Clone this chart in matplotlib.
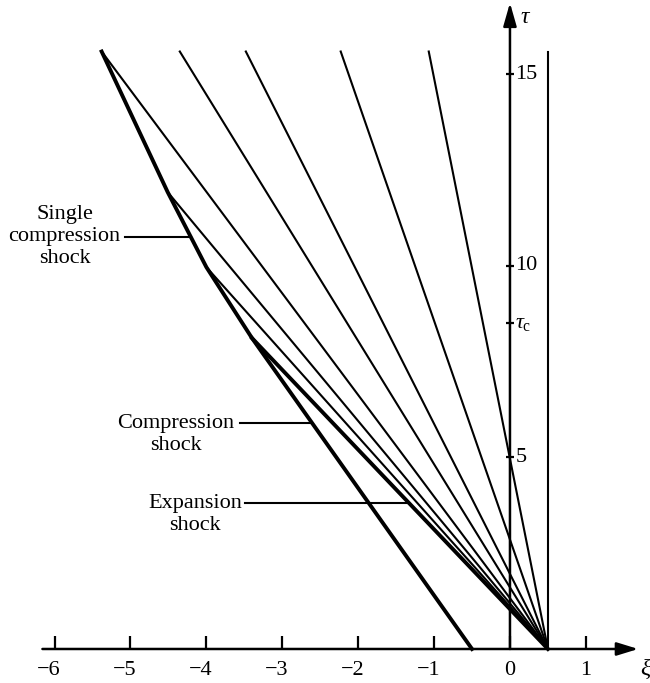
import matplotlib
matplotlib.use('Agg')
import matplotlib.pyplot as plt
import numpy as np

plt.rcParams['font.family'] = ['Liberation Serif', 'DejaVu Serif']
plt.rcParams['mathtext.fontset'] = 'custom'
plt.rcParams['mathtext.rm'] = 'Liberation Serif'
plt.rcParams['mathtext.it'] = 'Liberation Serif:italic'

# ---------------- data ----------------
x_ticks = [-6, -5, -4, -3, -2, -1, 0, 1]
x_ticklabels = ['−6', '−5', '−4', '−3', '−2', '−1', '0', '1']
y_ticks = [5, 8.5, 10, 15]
y_ticklabels = ['5', r'$\tau_{\rm c}$', '10', '15']

fan_xi0, fan_tau0 = 0.5, 0.0          # centre of the fan
tau_top = 15.6
char_top_xi = [-4.35, -3.48, -2.23, -1.07]   # characteristics reaching the top

shock_xi = [-5.38, -4.51, -4.00, -3.40, -0.5]   # single compression shock + compression shock
shock_tau = [15.6, 11.93, 9.97, 8.12, 0.0]
char_on_shock = [0, 1, 2]                      # characteristics ending on the shock

expansion_xi = [-3.40, 0.5]
expansion_tau = [8.12, 0.0]

wall_xi = [0.5, 0.5]
wall_tau = [0.0, 15.6]

labels = ['Single\ncompression\nshock', 'Compression\nshock', 'Expansion\nshock']
label_xi = [-5.87, -4.40, -4.15]
label_tau = [10.76, 5.61, 3.52]
pointer_start_xi = [-5.07, -3.56, -3.49]
pointer_tau = [10.76, 5.90, 3.81]
pointer_target = ['shock', 'shock', 'expansion']

# ---------------- figure ----------------
fig = plt.figure(figsize=(6.5, 6.83), dpi=100)
ax = fig.add_axes([0, 0, 1, 1])
ax.set_xlim(-6.719, 1.845)
ax.set_ylim(-0.888, 16.945)
ax.axis('off')

thin = 1.5
thick = 2.8
k = 'black'
fs = 16

# axes with arrows
ax.annotate('', xy=(1.69, 0), xytext=(-6.16, 0),
            arrowprops=dict(arrowstyle='-|>,head_length=0.65,head_width=0.2',
                            lw=1.8, color=k, mutation_scale=20, shrinkA=0, shrinkB=0))
ax.annotate('', xy=(0, 16.87), xytext=(0, 0),
            arrowprops=dict(arrowstyle='-|>,head_length=0.7,head_width=0.2',
                            lw=1.8, color=k, mutation_scale=20, shrinkA=0, shrinkB=0))

# x ticks (upwards only)
for xt, lab in zip(x_ticks, x_ticklabels):
    ax.plot([xt, xt], [0, 0.34], color=k, lw=1.6, solid_capstyle='butt')
    if xt < 0:
        ax.text(xt + 0.08, -0.57, lab, ha='right', va='center', fontsize=fs)
    else:
        ax.text(xt, -0.57, lab, ha='center', va='center', fontsize=fs)
ax.text(1.78, -0.52, 'ξ', ha='center', va='center', fontsize=17, fontstyle='italic')

# y ticks (crossing the axis)
for yt, lab in zip(y_ticks, y_ticklabels):
    ax.plot([-0.055, 0.055], [yt, yt], color=k, lw=1.6, solid_capstyle='butt')
    ax.text(0.07, yt, lab, ha='left', va='center', fontsize=fs)
ax.text(0.2, 16.5, 'τ', ha='center', va='center', fontsize=17, fontstyle='italic')

# wall / particle path
ax.plot(wall_xi, wall_tau, color=k, lw=thin)

# characteristics reaching the top
for xt in char_top_xi:
    ax.plot([fan_xi0, xt], [fan_tau0, tau_top], color=k, lw=thin)

# characteristics ending on the shock
for i in char_on_shock:
    ax.plot([fan_xi0, shock_xi[i]], [fan_tau0, shock_tau[i]], color=k, lw=thin)

# shocks
ax.plot(shock_xi, shock_tau, color=k, lw=thick, solid_joinstyle='round')
ax.plot(expansion_xi, expansion_tau, color=k, lw=thick)

# labels with pointers
for lab, lx, ly, ps, pt, tgt in zip(labels, label_xi, label_tau,
                                     pointer_start_xi, pointer_tau, pointer_target):
    ax.text(lx, ly, lab, ha='center', va='center', fontsize=fs, linespacing=1.22)
    if tgt == 'shock':
        xe = np.interp(pt, shock_tau[::-1], shock_xi[::-1])
    else:
        xe = np.interp(pt, expansion_tau[::-1], expansion_xi[::-1])
    ax.plot([ps, xe], [pt, pt], color=k, lw=thin)

fig.savefig('out.png', dpi=100)
